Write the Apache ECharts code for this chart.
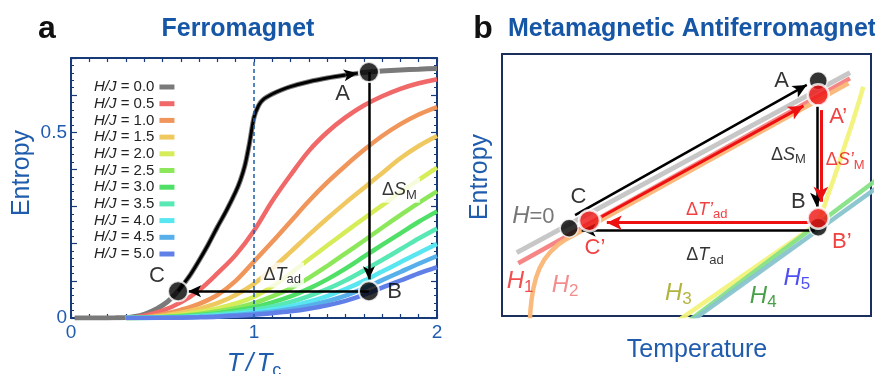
<!DOCTYPE html>
<html>
<head>
<meta charset="utf-8">
<script src="https://cdn.jsdelivr.net/npm/echarts@6.0.0/dist/echarts.min.js"></script>
<style>
html,body{margin:0;padding:0;background:#fff;}
#chart{width:875px;height:374px;}
</style>
</head>
<body>
<div id="chart"></div>
<script>
// ================= Panel a : ferromagnet =================
const fieldLabels = ['0.0','0.5','1.0','1.5','2.0','2.5','3.0','3.5','4.0','4.5','5.0'];
// H/J = 0 entropy curve
const zeroFieldT = [0.02,0.1,0.2,0.25,0.3,0.35,0.4,0.45,0.5,0.55,0.6,0.65,0.7,0.75,0.8,0.85,0.9,0.925,0.95,0.975,1.0,1.025,1.05,1.1,1.15,1.2,1.3,1.4,1.5,1.6,1.7,1.8,1.9,2.0];
const zeroFieldS = [0,0,0,0.0005,0.001,0.004,0.010,0.020,0.034,0.054,0.082,0.115,0.155,0.198,0.245,0.29,0.34,0.37,0.41,0.47,0.54,0.572,0.588,0.603,0.614,0.623,0.636,0.646,0.654,0.661,0.665,0.668,0.670,0.672];
// other fields, common temperature grid
const curveT = [0.3,0.4,0.5,0.6,0.7,0.8,0.9,1.0,1.1,1.2,1.3,1.4,1.5,1.6,1.7,1.8,1.9,2.0];
const entropyH05 = [0,0.006,0.02,0.042,0.075,0.12,0.17,0.235,0.315,0.385,0.45,0.5,0.54,0.572,0.597,0.617,0.632,0.643];
const entropyH10 = [0,0.002,0.01,0.022,0.038,0.062,0.1,0.152,0.205,0.26,0.315,0.365,0.41,0.452,0.49,0.522,0.548,0.568];
const entropyH15 = [0,0.001,0.006,0.014,0.025,0.04,0.062,0.092,0.133,0.178,0.224,0.268,0.31,0.35,0.39,0.43,0.463,0.49];
const entropyH20 = [0,0.001,0.004,0.009,0.016,0.026,0.039,0.057,0.085,0.12,0.158,0.195,0.232,0.268,0.303,0.338,0.372,0.405];
const entropyH25 = [0,0.0007,0.003,0.006,0.011,0.018,0.027,0.04,0.058,0.08,0.108,0.14,0.174,0.208,0.243,0.277,0.31,0.341];
const entropyH30 = [0,0.0005,0.002,0.004,0.008,0.013,0.02,0.029,0.042,0.058,0.079,0.104,0.133,0.165,0.197,0.228,0.259,0.287];
const entropyH35 = [0,0.0003,0.0015,0.003,0.006,0.01,0.015,0.022,0.031,0.043,0.059,0.078,0.101,0.128,0.156,0.185,0.214,0.241];
const entropyH40 = [0,0.0002,0.001,0.002,0.004,0.007,0.011,0.016,0.023,0.032,0.044,0.059,0.078,0.1,0.125,0.15,0.175,0.199];
const entropyH45 = [0,0.0001,0.0007,0.0015,0.003,0.005,0.008,0.012,0.017,0.024,0.033,0.045,0.06,0.08,0.102,0.124,0.146,0.167];
const entropyH50 = [0,0.0001,0.0005,0.001,0.002,0.0035,0.006,0.009,0.013,0.018,0.025,0.034,0.046,0.062,0.082,0.101,0.12,0.137];
const xTickValues = [0,1,2];
const xTickLabels = ['0','1','2'];
const yTickValues = [0,0.5];
const yTickLabels = ['0','0.5'];
const criticalT = [1];
// cycle points A, B, C
const cycleNamesA = ['A','B','C'];
const cycleTA = [1.628,1.628,0.585];
const cycleSA = [0.662,0.072,0.072];
// arrows (data units)
const arrowDeltaSA = [[1.628,0.662],[1.628,0.104]];
const arrowDeltaTA = [[1.628,0.072],[0.640,0.072]];
const arrowHeadCurveA = [[1.50,0.654],[1.567,0.659]];
// annotation text and anchor (data units)
const annotTextA = ['{L|A}','{L|B}','{L|C}','{n|Δ}{i|S}{s|M}','{n|Δ}{i|T}{s|ad}'];
const annotAtA = [[1.484,0.602],[1.768,0.070],[0.469,0.113],[1.795,0.344],[1.154,0.116]];

// ================= Panel b : metamagnetic antiferromagnet (schematic units 0-100) =================
const bH0 = [[4.0,24.2],[94.3,92.9]];
const bH1 = [[4.4,20.1],[94.3,90.7]];
const bH2 = [[7.5,-3],[7.7,2],[8.0,6.1],[8.5,10.5],[9.2,14.5],[10.2,18.3],[11.5,21.6],[13.2,24.6],[15.2,27.2],[17.5,29.4],[20,31.3],[93.9,88.8]];
const bH3 = [[47.5,-2],[84.4,34.1],[85.5,36],[86.5,38.8],[87.5,42.5],[88.5,46.8],[89.8,51.9],[91.2,57.6],[92.5,63.4],[93.9,69.3],[95.2,74.8],[96.6,81.2],[97.9,87.5]];
const bH4 = [[49.5,-3.1],[102,52.5]];
const bH5 = [[50.5,-2.8],[102,49.4]];
const bBlackNames = ['A','B','C'];
const bBlackPts = [[85.7,89.8],[85.7,33.9],[18.2,33.5]];
const bRedNames = ['A’','B’','C’'];
const bRedPts = [[85.7,84.4],[85.7,37.3],[23.7,36.4]];
const bBlackArrows = [[[19.8,38.5],[82.6,88.2]],[[85.3,79.9],[85.3,41.7]],[[84.8,32.8],[21.6,32.8]]];
const bRedArrows = [[[27.0,37.9],[81.7,80.2]],[[86.4,78.6],[86.4,43.6]],[[83.5,35.6],[28.4,35.6]]];
const annotTextB = ['{L|A}','{L|A’}','{n|Δ}{i|S}{s|M}','{n|Δ}{i|S’}{s|M}','{L|B}','{L|B’}','{L|C}','{L|C’}',
  '{n|Δ}{i|T’}{s|ad}','{n|Δ}{i|T}{s|ad}','{Li|H}{L|=0}','{Li|H}{Ls|1}','{Li|H}{Ls|2}','{Li|H}{Ls|3}','{Li|H}{Ls|4}','{Li|H}{Ls|5}'];
const annotAtB = [[75.8,89.8],[91.1,76.1],[77.6,61.5],[93.0,59.5],[80.3,43.6],[92.1,28.4],[20.7,45.5],[25.2,25.8],
  [55.5,40.5],[55.0,23.3],[8.5,37.9],[4.9,13.1],[17.1,11.8],[47.8,8.7],[70.8,7.4],[79.9,14.4]];

// ================= styles =================
const FONT = '"Liberation Sans", Arial, Helvetica, sans-serif';
const NAVY = '#173a78';
const BLUE = '#1f5cae';
const TITLE_BLUE = '#1656a6';
const RED = '#ee1111';
const curveColors = ['#7a7a7a','#f06868','#f0965a','#f0c860','#d6ec58','#8ce85a','#50e068','#58e8b4','#58e6f0','#58b0ea','#6080e8'];
const bLineColors = ['#c4c4c4','#f58080','#fbb676','#f2f27a','#86e286','#88c4cc'];
const annotColorsA = ['#000','#000','#000','#000','#000'];
const annotBgA = [null,null,null,'#fff','#fff'];
const annotColorsB = ['#000',RED,'#000',RED,'#000',RED,'#000',RED,RED,'#000','#555','#ee2222','#f07070','#a0a010','#1a8a1a','#2222ee'];
const RICH = {
  n:{fontSize:18,fontFamily:FONT},
  i:{fontSize:18,fontStyle:'italic',fontFamily:FONT},
  s:{fontSize:13,fontFamily:FONT,padding:[10,0,0,0]},
  L:{fontSize:22,fontFamily:FONT},
  Li:{fontSize:24,fontStyle:'italic',fontFamily:FONT},
  Ls:{fontSize:17,fontFamily:FONT,padding:[12,0,0,0]}
};

const pair = (xs, ys) => xs.map((x, i) => [x, ys[i]]);
const seg = (s, size) => [{coord:s[0], symbolSize:size}, {coord:s[1], symbolSize:size}];
const legendNames = fieldLabels.map(v => 'H/J = ' + v);
const curveSets = [entropyH05,entropyH10,entropyH15,entropyH20,entropyH25,entropyH30,entropyH35,entropyH40,entropyH45,entropyH50];

function textSeries(xi, yi, texts, ats, colors, bgs) {
  return {
    type:'scatter', xAxisIndex:xi, yAxisIndex:yi, symbolSize:1, silent:true, z:10,
    itemStyle:{color:'rgba(0,0,0,0)'},
    label:{show:true, position:'inside', formatter:p => p.name, fontFamily:FONT, rich:RICH},
    data: texts.map((t, i) => ({
      name:t, value:ats[i],
      label:{color:colors[i], backgroundColor:(bgs && bgs[i]) || 'transparent', padding:(bgs && bgs[i]) ? [1,3,1,3] : 0}
    }))
  };
}

const series = [];
// H/J = 0 curve with the dashed Tc line
series.push({
  name:legendNames[0], type:'line', xAxisIndex:0, yAxisIndex:0, data:pair(zeroFieldT, zeroFieldS),
  color:curveColors[0], showSymbol:false, symbol:'none', smooth:0.25,
  lineStyle:{width:5, color:curveColors[0]}, z:2, silent:true,
  markLine:{silent:true, symbol:['none','none'], label:{show:false},
    lineStyle:{type:[4,3], color:BLUE, width:1.5}, data:criticalT.map(v => ({xAxis:v}))}
});
curveSets.forEach((s, i) => series.push({
  name:legendNames[i+1], type:'line', xAxisIndex:0, yAxisIndex:0, data:pair(curveT, s),
  color:curveColors[i+1], showSymbol:false, symbol:'none', smooth:0.35,
  lineStyle:{width:4.5, color:curveColors[i+1]}, z:2, silent:true
}));
// black path C -> A along the H=0 curve
const blackPath = [[cycleTA[2], cycleSA[2]]].concat(
  pair(zeroFieldT, zeroFieldS).filter(p => p[0] > cycleTA[2] + 0.01 && p[0] <= arrowHeadCurveA[0][0] + 1e-9));
series.push({type:'line', xAxisIndex:0, yAxisIndex:0, data:blackPath, showSymbol:false, symbol:'none',
  smooth:0.25, lineStyle:{width:3, color:'#000'}, z:4, silent:true});
// cycle points and arrows
series.push({
  type:'scatter', xAxisIndex:0, yAxisIndex:0, silent:true, z:6, symbolSize:20,
  itemStyle:{color:'#000', borderColor:'#fff', borderWidth:2},
  data:cycleTA.map((t, i) => ({name:cycleNamesA[i], value:[t, cycleSA[i]]})),
  markLine:{silent:true, z:5, symbol:['none','arrow'], label:{show:false},
    lineStyle:{type:'solid', color:'#000', width:2.5},
    data:[seg(arrowDeltaSA,[9,13]), seg(arrowDeltaTA,[9,13]), seg(arrowHeadCurveA,[9,14])]}
});
series.push(textSeries(0, 0, annotTextA, annotAtA, annotColorsA, annotBgA));

// panel b lines
[bH0,bH1,bH2,bH3,bH4,bH5].forEach((d, i) => series.push({
  type:'line', xAxisIndex:2, yAxisIndex:2, data:d, showSymbol:false, symbol:'none',
  smooth:false,
  lineStyle:{width:(i === 0 ? 5 : 4.5), color:bLineColors[i], opacity:0.95, join:'round'}, z:2, silent:true
}));
series.push({
  type:'scatter', xAxisIndex:2, yAxisIndex:2, silent:true, z:6, symbolSize:18,
  itemStyle:{color:'#000', borderColor:'#fff', borderWidth:1.5},
  data:bBlackPts.map((p, i) => ({name:bBlackNames[i], value:p})),
  markLine:{silent:true, z:5, symbol:['none','arrow'], label:{show:false},
    lineStyle:{type:'solid', color:'#000', width:2.5},
    data:bBlackArrows.map(a => seg(a,[10,14]))}
});
series.push({
  type:'scatter', xAxisIndex:2, yAxisIndex:2, silent:true, z:7, symbolSize:21,
  itemStyle:{color:RED, borderColor:'#fff', borderWidth:2.5},
  data:bRedPts.map((p, i) => ({name:bRedNames[i], value:p})),
  markLine:{silent:true, z:5, symbol:['none','arrow'], label:{show:false},
    lineStyle:{type:'solid', color:RED, width:3},
    data:bRedArrows.map(a => seg(a,[11,15]))}
});
series.push(textSeries(2, 2, annotTextB, annotAtB, annotColorsB, null));

const tickLab = (vals, labs) => v => { const k = vals.findIndex(t => Math.abs(t - v) < 1e-6); return k >= 0 ? labs[k] : ''; };
const axisLine = {show:true, onZero:false, lineStyle:{color:NAVY, width:2}};

const option = {
  animation:false,
  backgroundColor:'#fff',
  textStyle:{fontFamily:FONT},
  grid:[
    {left:71, top:58, width:366, height:260, containLabel:false, outerBoundsMode:'none'},
    {left:502, top:54, width:369, height:262, containLabel:false, outerBoundsMode:'none', show:true, borderColor:'#1b2f5e', borderWidth:2, backgroundColor:'rgba(0,0,0,0)'}
  ],
  xAxis:[
    {gridIndex:0, type:'value', min:0, max:2, interval:0.1, position:'bottom', axisLine:axisLine,
     axisTick:{inside:true, length:4, lineStyle:{color:NAVY, width:1.2}}, splitLine:{show:false},
     axisLabel:{formatter:tickLab(xTickValues, xTickLabels), color:BLUE, fontSize:19, margin:5, fontFamily:FONT},
     name:'{i|T} {u|/} {i|T}{s|c}', nameLocation:'middle', nameGap:30,
     nameTextStyle:{color:BLUE, fontFamily:FONT, rich:{
       i:{fontSize:26, fontStyle:'italic', color:BLUE, fontFamily:FONT},
       u:{fontSize:26, fontStyle:'italic', color:BLUE, fontFamily:FONT},
       s:{fontSize:18, color:BLUE, fontFamily:FONT, padding:[14,0,0,0]}}}},
    {gridIndex:0, type:'value', min:0, max:2, interval:0.1, position:'top', axisLine:axisLine,
     axisTick:{inside:true, length:4, lineStyle:{color:NAVY, width:1.2}}, splitLine:{show:false}, axisLabel:{show:false}},
    {gridIndex:1, type:'value', min:0, max:100, show:false}
  ],
  yAxis:[
    {gridIndex:0, type:'value', min:0, max:0.7, interval:0.1, position:'left', axisLine:axisLine,
     axisTick:{inside:true, length:6, lineStyle:{color:NAVY, width:1.2}},
     minorTick:{show:true, splitNumber:5, length:3, lineStyle:{color:NAVY, width:1}},
     splitLine:{show:false}, minorSplitLine:{show:false},
     axisLabel:{formatter:tickLab(yTickValues, yTickLabels), color:BLUE, fontSize:19, margin:4, fontFamily:FONT}},
    {gridIndex:0, type:'value', min:0, max:0.7, interval:0.1, position:'right', axisLine:axisLine,
     axisTick:{inside:true, length:6, lineStyle:{color:NAVY, width:1.2}},
     minorTick:{show:true, splitNumber:5, length:3, lineStyle:{color:NAVY, width:1}},
     splitLine:{show:false}, axisLabel:{show:false}},
    {gridIndex:1, type:'value', min:0, max:100, show:false}
  ],
  legend:{
    data:legendNames, orient:'vertical', left:89, top:74, align:'right', icon:'rect',
    itemWidth:15, itemHeight:5, itemGap:0.7, selectedMode:false,
    formatter:n => n.replace('H/J', '{i|H/J}'),
    textStyle:{fontSize:15, color:'#222', fontFamily:FONT, lineHeight:16,
      rich:{i:{fontSize:15, fontStyle:'italic', color:'#222', fontFamily:FONT, lineHeight:16}}}
  },
  graphic:{elements:[
    {type:'text', x:47, y:29, silent:true, style:{text:'a', fontSize:32, fontWeight:'bold', fontFamily:FONT, fill:'#111', align:'center', verticalAlign:'middle'}},
    {type:'text', x:238, y:29, silent:true, style:{text:'Ferromagnet', fontSize:25, fontWeight:'bold', fontFamily:FONT, fill:TITLE_BLUE, align:'center', verticalAlign:'middle'}},
    {type:'text', x:483, y:29, silent:true, style:{text:'b', fontSize:32, fontWeight:'bold', fontFamily:FONT, fill:'#111', align:'center', verticalAlign:'middle'}},
    {type:'text', x:508, y:29, silent:true, style:{text:'Metamagnetic Antiferromagnet', fontSize:25, fontWeight:'bold', fontFamily:FONT, fill:TITLE_BLUE, align:'left', verticalAlign:'middle'}},
    {type:'text', x:22, y:173, rotation:Math.PI/2, silent:true, style:{text:'Entropy', fontSize:25, fontFamily:FONT, fill:BLUE, align:'center', verticalAlign:'middle'}},
    {type:'text', x:480, y:177, rotation:Math.PI/2, silent:true, style:{text:'Entropy', fontSize:25, fontFamily:FONT, fill:BLUE, align:'center', verticalAlign:'middle'}},
    {type:'text', x:697, y:350, silent:true, style:{text:'Temperature', fontSize:25, fontFamily:FONT, fill:BLUE, align:'center', verticalAlign:'middle'}}
  ]},
  series:series
};

const chart = echarts.init(document.getElementById('chart'), null, {renderer:'canvas'});
chart.setOption(option);
</script>
</body>
</html>
